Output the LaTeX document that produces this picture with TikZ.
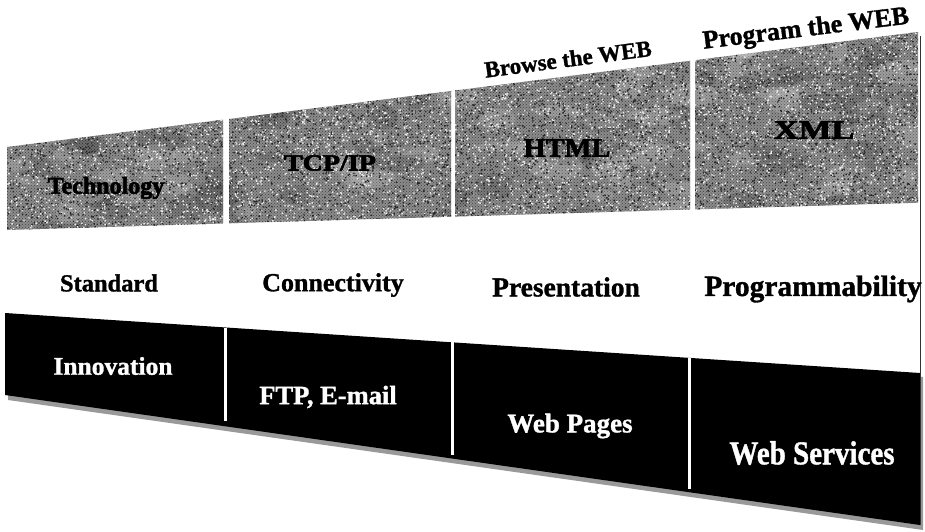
\documentclass[tikz,border=0pt]{standalone}
\usepackage{fontspec}
\usetikzlibrary{patterns}
\setmainfont{Liberation Serif}[BoldFeatures={FakeBold=1.2}]
\newfontfamily\heavyfont{Liberation Serif Bold}[FakeBold=2.5]
\begin{document}
\begin{tikzpicture}[x=1pt,y=-1pt,
  lbl/.style={font=\bfseries\fontsize{#1}{#1}\selectfont, inner sep=0pt, text=black},
  texlbl/.style={font=\heavyfont\fontsize{#1}{#1}\selectfont, inner sep=0pt, text=black},
  darklbl/.style={font=\bfseries\fontsize{#1}{#1}\selectfont, inner sep=0pt, text=white},
  sep/.style={draw=white, line width=3pt},
  grain/.style={black!45}]
\useasboundingbox (0,0) rectangle (925,532);
\fill[white] (0,0) rectangle (925,532);
\pgfmathsetseed{4217}

% ---- textured upper band: four tilted panels ----
\begin{scope}
  \clip (7,147) -- (223,119.7) -- (223,223.5) -- (7,230) -- cycle
        (229,119) -- (451,91) -- (451,216.7) -- (229,223.3) -- cycle
        (455,90.5) -- (690,60.8) -- (690,209.5) -- (455,216.6) -- cycle
        (695,60.2) -- (918,32) -- (918,202.7) -- (695,209.4) -- cycle;
  \fill[grain] (0,0) rectangle (925,240);
  \fill[pattern=crosshatch dots, pattern color=black!75] (0,0) rectangle (925,240);
  % soft light and dark patches
  \foreach \i in {1,...,70} {
    \fill[black, opacity=0.12] ({7+911*rnd},{30+200*rnd}) ellipse ({8+22*rnd} and {4+10*rnd});
  }
  \foreach \i in {1,...,70} {
    \fill[white, opacity=0.15] ({7+911*rnd},{30+200*rnd}) ellipse ({8+22*rnd} and {4+10*rnd});
  }
  % fine dithering grain, drawn in small batches
  \foreach \k in {1,...,13} {
    \fill[black!85] \foreach \i in {1,...,500} { ({7+911*rnd},{30+200*rnd}) rectangle ++(1.4,1.4) };
    \fill[white!92!black] \foreach \i in {1,...,500} { ({7+911*rnd},{30+200*rnd}) rectangle ++(1.4,1.4) };
  }
\end{scope}

% ---- dark lower band with its shadow ----
\fill[black!40] (8,400) -- (923,530) -- (923,377) -- (912,376) -- (912,522) -- (8,395) -- cycle;
\fill[black] (5,313) -- (920,373) -- (920,525) -- (5,395) -- cycle;
\draw[sep] (225.5,327.5) -- (225.5,421);
\draw[sep] (452.5,342.4) -- (452.5,455);
\draw[sep] (689.5,357.9) -- (689.5,489);

% right edge of the slide
\draw[black!80, line width=1.6pt] (920.5,36) -- (920.5,525);

% ---- captions above the band ----
\node[lbl=23, rotate=7.5] (browse) at (568,59) {Browse the WEB};
\node[lbl=26, rotate=7] (program) at (806,30) {Program the WEB};

% ---- technologies on the textured panels ----
\node[texlbl=24] (tech) at (106,188) {Technology};
\node[texlbl=23, xscale=1.22] (tcpip) at (330,163) {TCP/IP};
\node[texlbl=27, xscale=1.05] (html) at (567,148) {HTML};
\node[texlbl=27, xscale=1.28] (xml) at (814,130) {XML};

% ---- purposes ----
\node[lbl=24.5] (standard) at (109,283) {Standard};
\node[lbl=26] (connect) at (333,285) {Connectivity};
\node[lbl=27.5] (present) at (566,287) {Presentation};
\node[lbl=29.5] (programm) at (813,289) {Programmability};

% ---- results on the dark band ----
\node[darklbl=25.5] (innov) at (113,366) {Innovation};
\node[darklbl=26.5] (ftp) at (328,397) {FTP, E-mail};
\node[darklbl=27] (webpages) at (570,426) {Web Pages};
\node[darklbl=29, yscale=1.15] (websrv) at (812,453) {Web Services};
\end{tikzpicture}
\end{document}
